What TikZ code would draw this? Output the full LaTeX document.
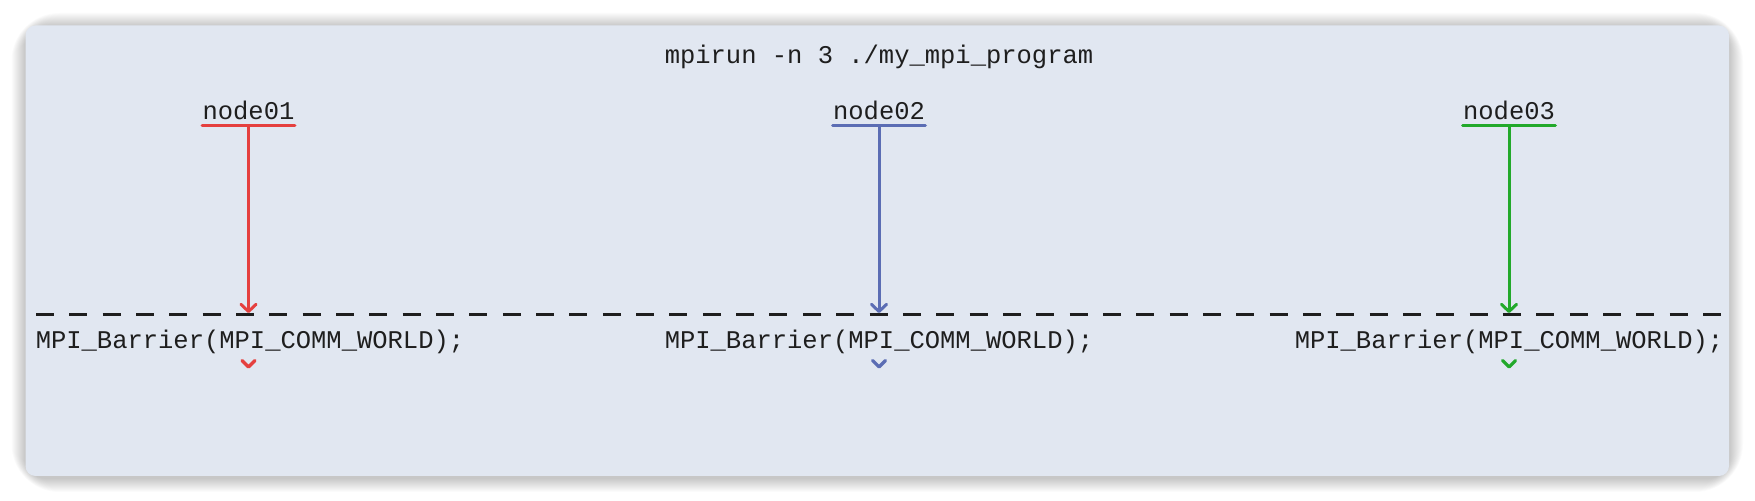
\documentclass[tikz,border=0pt]{standalone}
\usepackage{fontspec}
\setmonofont{Liberation Mono}
\usetikzlibrary{arrows.meta}
\definecolor{panelbg}{HTML}{E1E7F1}
\definecolor{cred}{HTML}{E5403F}
\definecolor{cblue}{HTML}{5B6DB4}
\definecolor{cgreen}{HTML}{22A92B}
\definecolor{ink}{HTML}{1E1E1E}
\tikzset{
  lbl/.style={font=\ttfamily\fontsize{12.75pt}{14pt}\selectfont, text=ink, inner sep=0pt, anchor=base},
  ul/.style={line width=1.7pt, line cap=round},
  flow/.style={line width=1.5pt, -{Straight Barb[length=3.6pt,width=7.6pt,line cap=round,line join=round]}},
  chev/.style={line width=1.6pt, line cap=round, line join=round},
  barrier/.style={ink, line width=1.5pt, dash pattern=on 9pt off 7.67pt},
}
\begin{document}
\begin{tikzpicture}[x=0.5pt,y=-0.5pt]
\useasboundingbox (0,0) rectangle (1755,501);
\fill[white] (0,0) rectangle (1755,501);
% shadow
\foreach \i in {1,...,14}{
  \fill[black, opacity=0.014, rounded corners=10+\i] (25.5-\i,27-\i) rectangle (1729+\i,478+\i);
}
% panel
\fill[panelbg, rounded corners=5pt] (25.5,25.5) rectangle (1729,476);
% title
\node[lbl] (title) at (879,64) {mpirun -n 3 ./my\_mpi\_program};
% node labels
\node[lbl] (n1) at (248.5,119.3) {node01};
\node[lbl] (n2) at (879,119.3) {node02};
\node[lbl] (n3) at (1509,119.3) {node03};
% underlines
\coordinate (u1) at (248.5,125.7);
\coordinate (u2) at (879,125.7);
\coordinate (u3) at (1509,125.7);
\draw[ul, cred] (n1.west |- u1) -- (n1.east |- u1);
\draw[ul, cblue] (n2.west |- u2) -- (n2.east |- u2);
\draw[ul, cgreen] (n3.west |- u3) -- (n3.east |- u3);
% barrier line
\coordinate (dl) at (36,314.3);
\coordinate (dr) at (1721,314.3);
\draw[barrier] (dl) -- (dr);
% arrow ends
\coordinate (b1) at (248.5,313);
\coordinate (b2) at (879,313);
\coordinate (b3) at (1509,313);
\draw[flow, cred] (u1) -- (b1);
\draw[flow, cblue] (u2) -- (b2);
\draw[flow, cgreen] (u3) -- (b3);
% barrier texts
\node[lbl] (m1) at (250,348.3) {MPI\_Barrier(MPI\_COMM\_WORLD);};
\node[lbl] (m2) at (879,348.3) {MPI\_Barrier(MPI\_COMM\_WORLD);};
\node[lbl] (m3) at (1509,348.3) {MPI\_Barrier(MPI\_COMM\_WORLD);};
% chevrons
\coordinate (c1) at (248.5,367);
\coordinate (c2) at (879,367);
\coordinate (c3) at (1509,367);
\draw[chev, cred] ([shift={(-6.5,-6.5)}]c1) -- (c1) -- ([shift={(6.5,-6.5)}]c1);
\draw[chev, cblue] ([shift={(-6.5,-6.5)}]c2) -- (c2) -- ([shift={(6.5,-6.5)}]c2);
\draw[chev, cgreen] ([shift={(-6.5,-6.5)}]c3) -- (c3) -- ([shift={(6.5,-6.5)}]c3);
\end{tikzpicture}
\end{document}
